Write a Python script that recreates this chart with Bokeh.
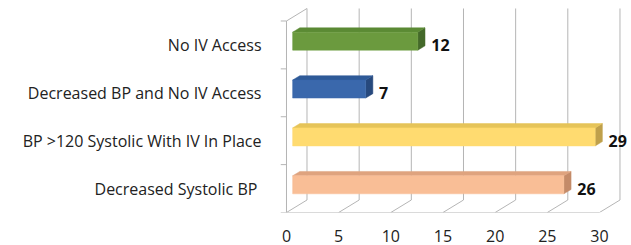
from bokeh.plotting import figure
from bokeh.models import Range1d, FixedTicker, ColumnDataSource
from bokeh.core.properties import value
from bokeh.embed import file_html
from bokeh.resources import INLINE

# ---- data ----
categories = ["Decreased Systolic BP ", "BP >120 Systolic With IV In Place",
              "Decreased BP and No IV Access", "No IV Access"]
counts = [26, 29, 7, 12]
x_ticks = [0, 5, 10, 15, 20, 25, 30]
front_colors = ["#F9BE96", "#FFDB70", "#3A68AC", "#6B9A3E"]
top_colors = ["#DFA37E", "#E6C459", "#2E5A98", "#5B8A34"]
side_colors = ["#C48B69", "#BFA04B", "#27497D", "#44692A"]

# ---- projection constants (style) ----
DX = 1.965    # depth offset in x units
DY = 0.261    # depth offset in y units
Y0, Y1 = -0.5, 3.5
X0, X1 = 0, 30
XL = -0.575
D_FRONT, D_BACK = 0.3, 0.65
HALF = 0.188

def P(x, y, d):
    return x + DX * d, y + DY * d

p = figure(width=631, height=245, output_backend="svg", toolbar_location=None,
           x_range=Range1d(XL, 33.07), y_range=Range1d(-0.5, 3.928),
           min_border_left=280, min_border_right=0, min_border_top=0,
           min_border_bottom=33)
p.outline_line_color = None
p.grid.visible = False

grid_color = "#B5B5B5"

xs, ys = [], []
for t in x_ticks:
    a = P(t, Y0, 1); b = P(t, Y1, 1)
    xs.append([a[0], b[0]]); ys.append([a[1], b[1]])   # back wall gridline
    c = P(t, Y0, 0)
    xs.append([c[0], a[0]]); ys.append([c[1], a[1]])   # floor diagonal
# left wall front & top edge
a = P(X0, Y0, 0); b = P(X0, Y1, 0); c = P(X0, Y1, 1)
xs.append([a[0], b[0]]); ys.append([a[1], b[1]])
xs.append([b[0], c[0]]); ys.append([b[1], c[1]])
# front floor edge
e = P(X1, Y0, 0)
xs.append([a[0], e[0]]); ys.append([a[1], e[1]])
# left wall ticks at category boundaries
for k in range(len(categories) + 1):
    yb = Y0 + k
    xs.append([XL, 0]); ys.append([yb, yb])
p.multi_line(xs, ys, line_color=grid_color, line_width=1)

# bars (3D boxes)
front_x, front_y, top_x, top_y, side_x, side_y = [], [], [], [], [], []
for i, v in enumerate(counts):
    lo, hi = i - HALF, i + HALF
    f = [P(0, lo, D_FRONT), P(v, lo, D_FRONT), P(v, hi, D_FRONT), P(0, hi, D_FRONT)]
    t = [P(0, hi, D_FRONT), P(v, hi, D_FRONT), P(v, hi, D_BACK), P(0, hi, D_BACK)]
    s = [P(v, lo, D_FRONT), P(v, lo, D_BACK), P(v, hi, D_BACK), P(v, hi, D_FRONT)]
    front_x.append([q[0] for q in f]); front_y.append([q[1] for q in f])
    top_x.append([q[0] for q in t]); top_y.append([q[1] for q in t])
    side_x.append([q[0] for q in s]); side_y.append([q[1] for q in s])

p.patches(side_x, side_y, fill_color=side_colors, line_color=side_colors, line_width=0.5)
p.patches(top_x, top_y, fill_color=top_colors, line_color=top_colors, line_width=0.5)
p.patches(front_x, front_y, fill_color=front_colors, line_color=front_colors, line_width=0.5)

# value labels
lx = [P(v, i, D_BACK)[0] + 0.6 for i, v in enumerate(counts)]
ly = [float(i) for i in range(len(counts))]
src = ColumnDataSource(dict(x=lx, y=ly, t=[str(v) for v in counts]))
p.text("x", "y", text="t", source=src, text_font=value("Open Sans"),
       text_font_style="bold", text_font_size="16px", text_color="#111111",
       text_baseline="middle", text_align="left")

# axes
p.xaxis.ticker = FixedTicker(ticks=x_ticks)
p.xaxis.axis_line_color = None
p.xaxis.major_tick_line_color = None
p.xaxis.minor_tick_line_color = None
p.xaxis.major_label_standoff = 11
p.xaxis.major_label_text_font = "Open Sans"
p.xaxis.major_label_text_font_size = "16px"
p.xaxis.major_label_text_color = "#222222"

p.yaxis.ticker = FixedTicker(ticks=list(range(len(categories))))
p.yaxis.major_label_overrides = {i: c for i, c in enumerate(categories)}
p.yaxis.axis_line_color = None
p.yaxis.major_tick_line_color = None
p.yaxis.minor_tick_line_color = None
p.yaxis.major_label_standoff = 13
p.yaxis.major_label_text_font = "Open Sans"
p.yaxis.major_label_text_font_size = "16px"
p.yaxis.major_label_text_color = "#222222"

open("out.html", "w").write(file_html(p, INLINE))
